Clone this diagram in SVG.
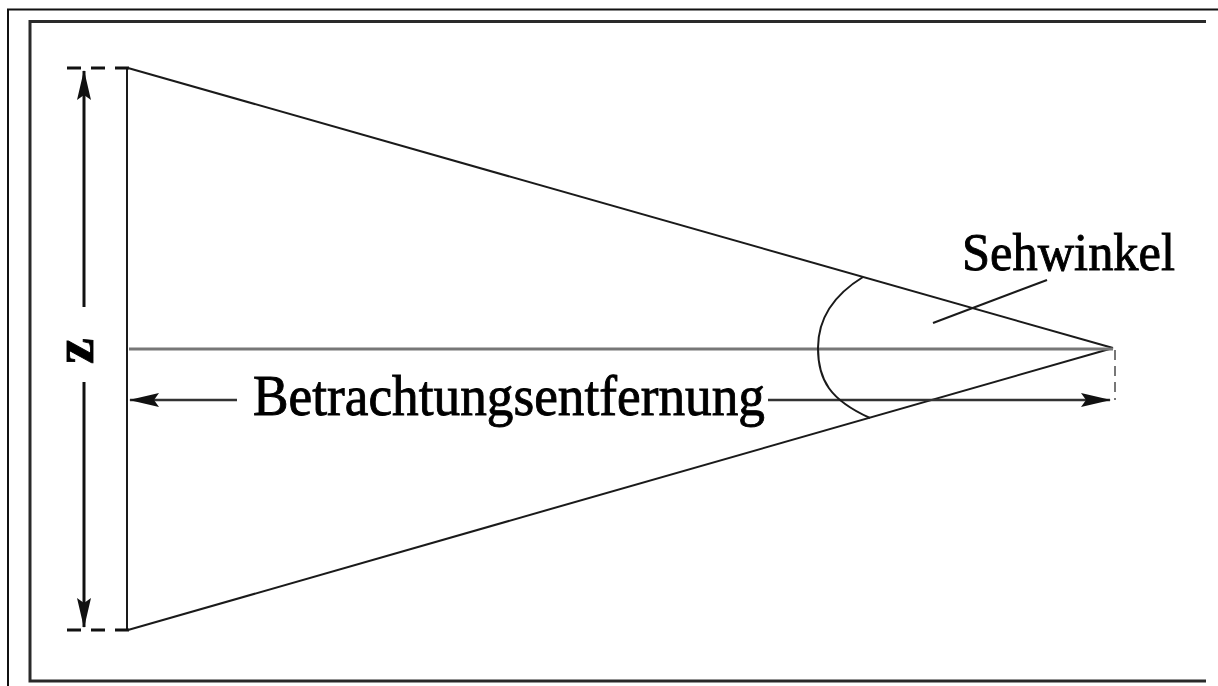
<svg xmlns="http://www.w3.org/2000/svg" width="1218" height="686" viewBox="0 0 1218 686">
<defs>
<style>
.frame{stroke:#111;stroke-width:2;fill:none}
.frame2{stroke:#2a2a2a;stroke-width:3;fill:none}
.ray{stroke:#1a1a1a;stroke-width:2;fill:none}
.axis{stroke:#777;stroke-width:3;fill:none}
.dim{stroke:#111;stroke-width:3;fill:none}
.dimh{stroke:#333;stroke-width:2.5;fill:none}
.tick{stroke:#111;stroke-width:3;fill:none;stroke-dasharray:14,10}
.dash{stroke:#777;stroke-width:2;fill:none;stroke-dasharray:10,6}
.lbl{font-family:"Liberation Serif","Times New Roman",serif;fill:#000;stroke:#000;stroke-width:0.9}
</style>
<marker id="ah" viewBox="0 0 30 16" refX="29" refY="8" markerWidth="30" markerHeight="16" markerUnits="userSpaceOnUse" orient="auto-start-reverse">
<path d="M30,8 L0,1 L5,8 L0,15 Z" fill="#111"/>
</marker>
</defs>
<g id="frame">
<path class="frame" d="M8,686 V9.5 H1218"/>
<path class="frame2" d="M1206,21.5 H30 V681 H1206"/>
</g>
<g id="screen">
<line class="ray" x1="127" y1="68" x2="127" y2="630"/>
<line class="tick" x1="67" y1="68" x2="131" y2="68"/>
<line class="tick" x1="67" y1="630" x2="131" y2="630"/>
</g>
<g id="connectors">
<line class="ray" x1="128" y1="68" x2="1113" y2="348"/>
<line class="ray" x1="128" y1="630" x2="1113" y2="348"/>
<line class="axis" x1="129" y1="349" x2="1113" y2="349"/>
<line class="dash" x1="1115" y1="350" x2="1115" y2="400"/>
<line class="dim" x1="84" y1="71" x2="84" y2="307" marker-start="url(#ah)"/>
<line class="dim" x1="84" y1="382" x2="84" y2="627" marker-end="url(#ah)"/>
<line class="dimh" x1="130" y1="400" x2="237" y2="400" marker-start="url(#ah)"/>
<line class="dimh" x1="768" y1="400" x2="1110" y2="400" marker-end="url(#ah)"/>
<path class="ray" d="M863,277 C832,296 818,320 818,348 C818,380 830,400 870,418"/>
<line class="ray" x1="933" y1="323" x2="1047" y2="280"/>
</g>
<g id="labels">
<text class="lbl" x="0" y="0" font-size="58" font-weight="bold" text-anchor="middle" transform="translate(93,351) rotate(-90)">z</text>
<text class="lbl" x="253" y="415" font-size="56" textLength="512" lengthAdjust="spacingAndGlyphs">Betrachtungsentfernung</text>
<text class="lbl" x="962" y="270" font-size="53" textLength="213" lengthAdjust="spacingAndGlyphs">Sehwinkel</text>
</g>
</svg>
